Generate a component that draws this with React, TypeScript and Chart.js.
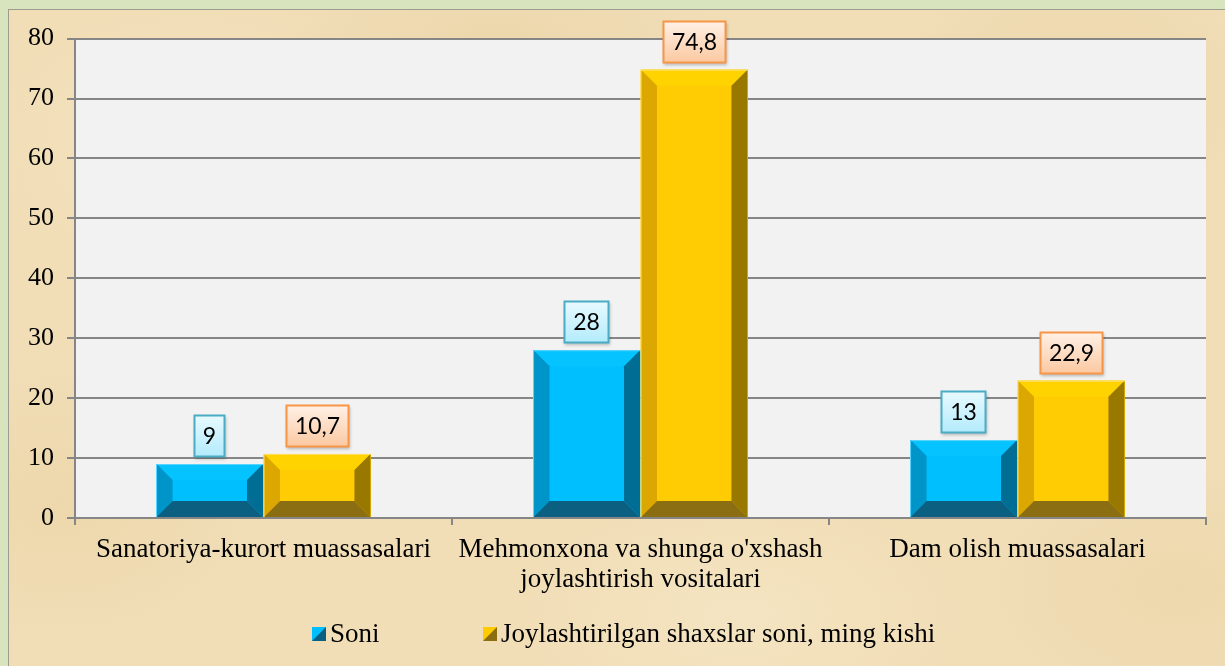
import React, { useEffect, useRef } from 'react';
import { Chart, registerables } from 'chart.js';

Chart.register(...registerables);

// ---- data ----
const categories: (string | string[])[] = [
  'Sanatoriya-kurort muassasalari',
  ["Mehmonxona va shunga o'xshash", 'joylashtirish vositalari'],
  'Dam olish muassasalari',
];
const seriesNames = ['Soni', 'Joylashtirilgan shaxslar soni, ming kishi'];
const soniValues = [9, 28, 13];
const joylashValues = [10.7, 74.8, 22.9];
const yMin = 0;
const yMax = 80;
const yStep = 10;

// ---- styles ----
const serif = '"Liberation Serif", "Times New Roman", serif';
const labelFont = 'Lato, "Open Sans", sans-serif';
const axisGray = '#868686';

const bevels = [
  { face: '#00bfff', top: '#05c3ff', left: '#0095c8', right: '#006e94', bottom: '#0b5f80', edge: '#5fd6ff' },
  { face: '#ffcb03', top: '#ffd300', left: '#dba700', right: '#997800', bottom: '#8b6d12', edge: '#ffe066' },
];
const boxStyles = [
  { border: '#4bacc6', top: '#e9faff', bottom: '#b2ebfc' },
  { border: '#f79646', top: '#fff1e7', bottom: '#fbc8a0' },
];

const plotBg = {
  id: 'plotBg',
  beforeDraw(chart: any) {
    const { ctx, chartArea: a } = chart;
    ctx.save();
    ctx.fillStyle = '#f2f2f2';
    ctx.fillRect(a.left, a.top, a.right - a.left, a.bottom - a.top);
    ctx.restore();
  },
};

function poly(ctx: CanvasRenderingContext2D, pts: number[][], color: string) {
  ctx.beginPath();
  ctx.moveTo(pts[0][0], pts[0][1]);
  for (let i = 1; i < pts.length; i++) ctx.lineTo(pts[i][0], pts[i][1]);
  ctx.closePath();
  ctx.fillStyle = color;
  ctx.fill();
}

const bevelPlugin = {
  id: 'bevel',
  afterDatasetsDraw(chart: any) {
    const ctx = chart.ctx as CanvasRenderingContext2D;
    chart.data.datasets.forEach((_ds: any, di: number) => {
      const meta = chart.getDatasetMeta(di);
      const c = bevels[di];
      meta.data.forEach((bar: any) => {
        const p = bar.getProps(['x', 'y', 'base', 'width'], true);
        const l = p.x - p.width / 2 + 0.5;
        const r = p.x + p.width / 2 - 0.5;
        const t = Math.min(p.y, p.base);
        const b = Math.max(p.y, p.base);
        const bv = Math.min(16, (r - l) / 2, (b - t) / 2);
        ctx.save();
        poly(ctx, [[l, t], [r, t], [r, b], [l, b]], c.face);
        poly(ctx, [[l, t], [r, t], [r - bv, t + bv], [l + bv, t + bv]], c.top);
        poly(ctx, [[l, t], [l + bv, t + bv], [l + bv, b - bv], [l, b]], c.left);
        poly(ctx, [[r, t], [r, b], [r - bv, b - bv], [r - bv, t + bv]], c.right);
        poly(ctx, [[l, b], [l + bv, b - bv], [r - bv, b - bv], [r, b]], c.bottom);
        ctx.strokeStyle = c.edge;
        ctx.lineWidth = 1;
        ctx.beginPath();
        ctx.moveTo(l, b);
        ctx.lineTo(l, t + 0.5);
        ctx.lineTo(r, t + 0.5);
        ctx.stroke();
        ctx.restore();
      });
    });
  },
};

const labelPlugin = {
  id: 'boxLabels',
  afterDatasetsDraw(chart: any) {
    const ctx = chart.ctx as CanvasRenderingContext2D;
    chart.data.datasets.forEach((ds: any, di: number) => {
      const meta = chart.getDatasetMeta(di);
      const s = boxStyles[di];
      meta.data.forEach((bar: any, i: number) => {
        const text = String(ds.data[i]).replace('.', ',');
        ctx.save();
        ctx.font = `23px ${labelFont}`;
        const tw = ctx.measureText(text).width;
        const w = Math.round(tw + 18);
        const h = 42;
        const x = Math.round(bar.x - w / 2);
        const y = Math.round(bar.y - 7 - h);
        ctx.shadowColor = 'rgba(0,0,0,0.25)';
        ctx.shadowBlur = 3;
        ctx.shadowOffsetX = 1;
        ctx.shadowOffsetY = 2;
        const g = ctx.createLinearGradient(0, y, 0, y + h);
        g.addColorStop(0, s.top);
        g.addColorStop(1, s.bottom);
        ctx.fillStyle = g;
        ctx.fillRect(x, y, w, h);
        ctx.shadowColor = 'transparent';
        ctx.lineWidth = 2;
        ctx.strokeStyle = s.border;
        ctx.strokeRect(x + 0.5, y + 0.5, w - 1, h - 1);
        ctx.fillStyle = '#000';
        ctx.textAlign = 'center';
        ctx.textBaseline = 'middle';
        ctx.fillText(text, x + w / 2, y + h / 2 + 1);
        ctx.restore();
      });
    });
  },
};

const legendPlugin = {
  id: 'customLegend',
  afterDraw(chart: any) {
    const ctx = chart.ctx as CanvasRenderingContext2D;
    const items = [
      { mx: 303, tx: 321 },
      { mx: 474, tx: 492 },
    ];
    const my = 617;
    const size = 14;
    ctx.save();
    ctx.font = `27px ${serif}`;
    ctx.textBaseline = 'middle';
    ctx.textAlign = 'left';
    items.forEach((it, i) => {
      const c = bevels[i];
      poly(ctx, [[it.mx, my], [it.mx + size, my], [it.mx + size, my + size], [it.mx, my + size]], c.face);
      poly(ctx, [[it.mx + size, my], [it.mx + size, my + size], [it.mx, my + size]], c.bottom);
      ctx.fillStyle = '#000';
      ctx.fillText(chart.data.datasets[i].label, it.tx, my + size / 2 + 1);
    });
    ctx.restore();
  },
};

export default function App() {
  const ref = useRef<HTMLCanvasElement>(null);
  useEffect(() => {
    const chart = new Chart(ref.current!, {
      type: 'bar',
      data: {
        labels: categories,
        datasets: [
          { label: seriesNames[0], data: soniValues, backgroundColor: bevels[0].face, borderWidth: 0 },
          { label: seriesNames[1], data: joylashValues, backgroundColor: bevels[1].face, borderWidth: 0 },
        ],
      },
      options: {
        responsive: false,
        animation: false,
        devicePixelRatio: 1,
        layout: { padding: { top: 28, right: 19, bottom: 68, left: 0 } },
        datasets: { bar: { categoryPercentage: 0.57, barPercentage: 1 } },
        plugins: { legend: { display: false }, tooltip: { enabled: false } },
        scales: {
          x: {
            offset: true,
            grid: { offset: true, drawOnChartArea: false, drawTicks: true, tickLength: 7, color: axisGray, lineWidth: 2 },
            border: { display: true, color: axisGray, width: 2 },
            ticks: {
              color: '#000',
              font: { family: serif, size: 27, lineHeight: 1.1 },
              padding: 10,
              autoSkip: false,
              maxRotation: 0,
              minRotation: 0,
            },
            afterFit: (s: any) => { s.height = 80; },
          },
          y: {
            min: yMin,
            max: yMax,
            ticks: { stepSize: yStep, color: '#000', font: { family: serif, size: 26 }, padding: 13 },
            grid: { color: axisGray, lineWidth: 2, tickLength: 8 },
            border: { display: true, color: axisGray, width: 2 },
            afterFit: (s: any) => { s.width = 66; },
          },
        },
      } as any,
      plugins: [plotBg, bevelPlugin, labelPlugin, legendPlugin],
    });
    return () => chart.destroy();
  }, []);

  const parchment = [
    'radial-gradient(ellipse 200px 140px at 15% 20%, rgba(246,230,196,0.6), rgba(246,230,196,0) 100%)',
    'radial-gradient(ellipse 220px 120px at 60% 92%, rgba(247,232,200,0.6), rgba(247,232,200,0) 100%)',
    'radial-gradient(ellipse 200px 140px at 88% 12%, rgba(232,208,160,0.5), rgba(232,208,160,0) 100%)',
    'radial-gradient(ellipse 220px 150px at 4% 75%, rgba(234,210,162,0.5), rgba(234,210,162,0) 100%)',
    'radial-gradient(ellipse 240px 120px at 40% 6%, rgba(232,208,162,0.5), rgba(232,208,162,0) 100%)',
    'radial-gradient(ellipse 220px 140px at 96% 88%, rgba(234,210,164,0.5), rgba(234,210,164,0) 100%)',
    '#f1deb7',
  ].join(',');

  return (
    <div style={{ position: 'fixed', left: 0, top: 0, width: 1225, height: 666, background: '#d7e4bd', overflow: 'hidden' }}>
      <div
        style={{
          position: 'absolute',
          left: 8,
          top: 9,
          width: 1217,
          height: 657,
          borderTop: '1px solid #9c9c90',
          borderLeft: '1px solid #9c9c90',
          background: parchment,
        }}
      />
      <canvas ref={ref} width={1216} height={656} style={{ position: 'absolute', left: 9, top: 10, display: 'block' }} />
    </div>
  );
}
